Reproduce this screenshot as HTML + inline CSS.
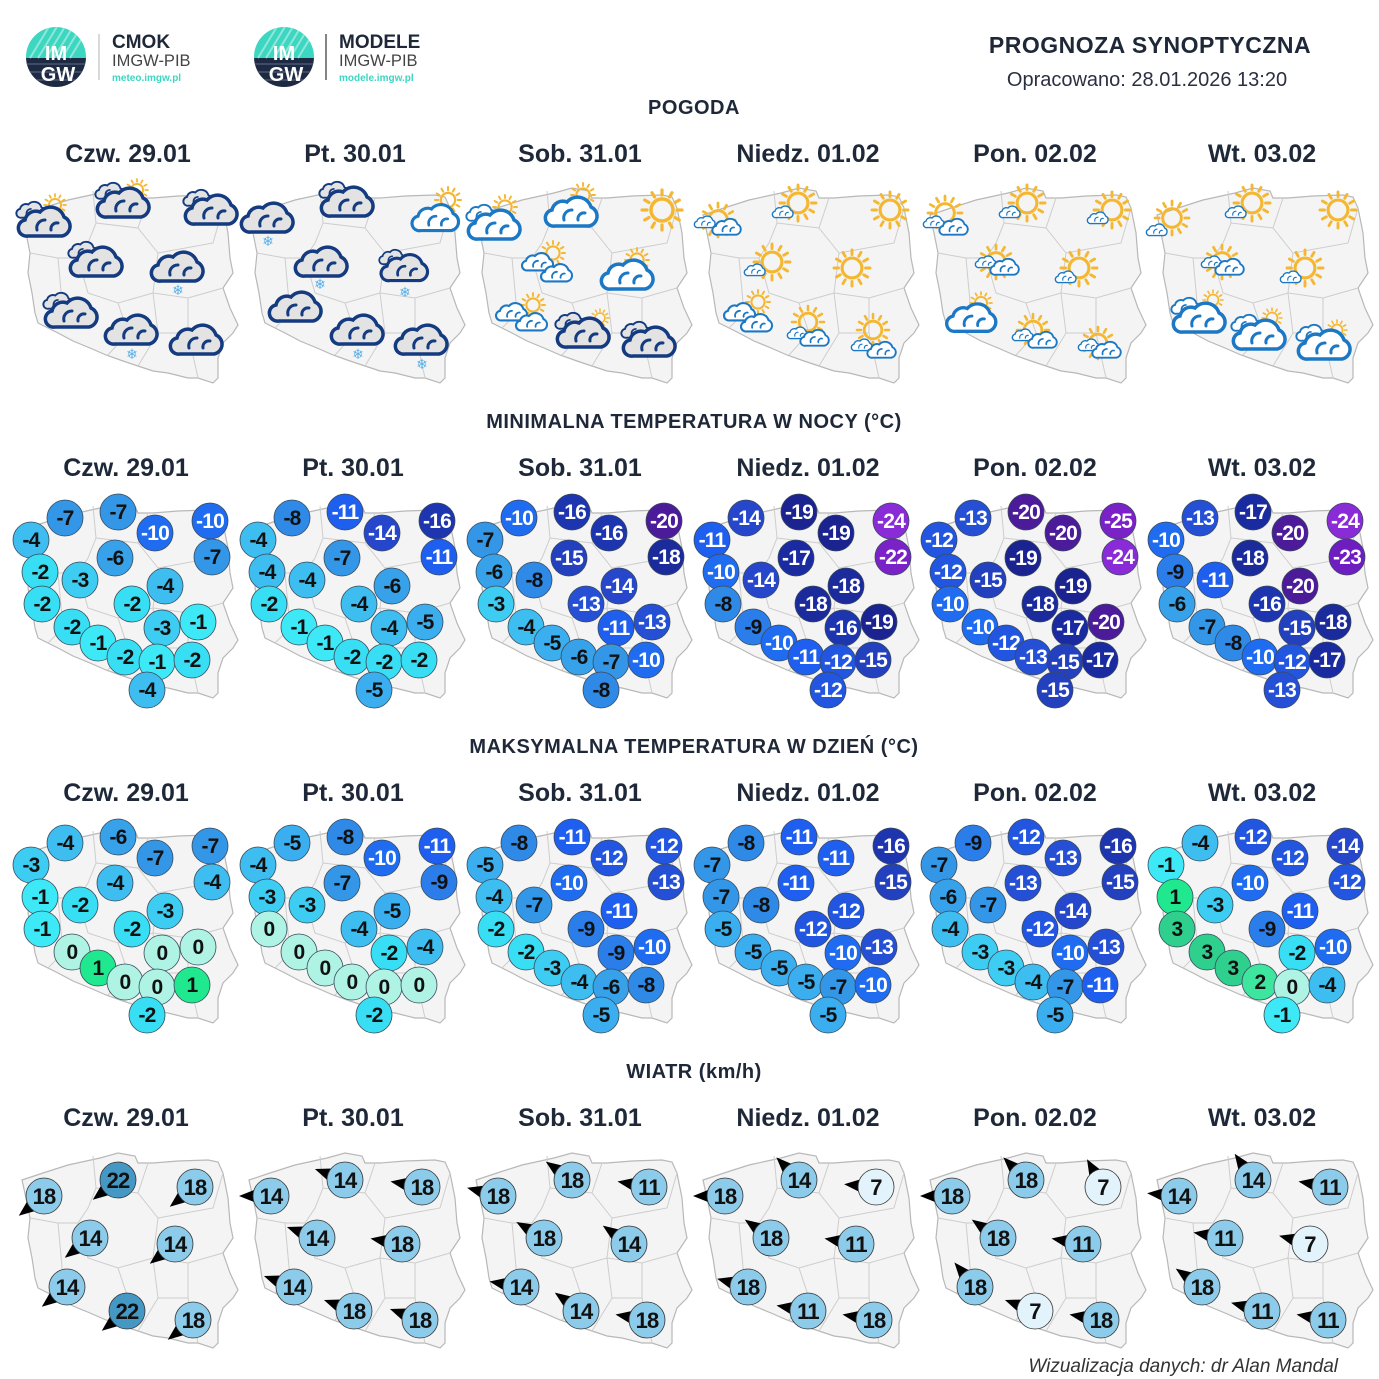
<!DOCTYPE html>
<html><head><meta charset="utf-8"><style>
html,body{margin:0;padding:0;background:#fff;}
svg{display:block;font-family:"Liberation Sans",sans-serif;}
.h{font-weight:bold;fill:#1e2838;text-anchor:middle;}
.day{font-size:25px;font-weight:bold;fill:#1e2838;text-anchor:middle;}
.sec{font-size:20px;font-weight:bold;fill:#1e2838;text-anchor:middle;letter-spacing:0.5px;}
.map{fill:#f4f4f4;stroke:#b8b8b8;stroke-width:1.2;}
.brd{fill:none;stroke:#cdcdcd;stroke-width:1;}
.t circle{stroke:#3a4a5a;stroke-width:0.8;}
.t text{font-size:21px;font-weight:bold;text-anchor:middle;fill:#111;letter-spacing:-0.8px;}
.t text.w{fill:#fff;}
.p3{fill:#2fcf8e}.p2{fill:#3ee59f}.p1{fill:#1fe88f}.z0{fill:#aef3e4}
.m1{fill:#3de9f7}.m2{fill:#38def3}.m3{fill:#3ecdf2}.m4{fill:#3dbdf0}.m5{fill:#3aaeee}.m6{fill:#37a2ea}.m7{fill:#3396e6}.m8{fill:#2f89e7}.m9{fill:#2b7ee9}.m10{fill:#1f6cf0}.m11{fill:#1f5ff0}.m12{fill:#2256e0}.m13{fill:#2550d6}.m14{fill:#2647cb}.m15{fill:#2340bf}.m16{fill:#1e35b0}.m17{fill:#1a2ba2}.m18{fill:#1b2b9c}.m19{fill:#1b2390}.m20{fill:#4b1b99}.m22{fill:#7a22c8}.m23{fill:#6e1dc0}.m24{fill:#8a2bd8}.m25{fill:#7a21c8}
.wd polygon{fill:#222;}
.wd circle{stroke:#333;stroke-width:0.8;}
.wd text{font-size:22px;font-weight:bold;text-anchor:middle;fill:#111;letter-spacing:-0.8px;}
.wa{fill:#8ccbea}.wb{fill:#4598c4}.wc{fill:#e3f3fb}
.sn{font-family:"DejaVu Sans",sans-serif;font-size:14px;fill:#5ab0e8;text-anchor:middle;}
</style></head><body>
<svg width="1379" height="1379" viewBox="0 0 1379 1379" xmlns="http://www.w3.org/2000/svg">
<defs>
<path id="pl" d="M4,32 L25,25 L50,17 L82,10 L100,5 L117,8 L120,15 L135,15 L160,13 L190,12 L200,14 L205,25 L210,50 L212,75 L215,90 L205,105 L212,125 L220,142 L215,150 L205,160 L200,175 L200,195 L195,200 L180,195 L170,195 L150,190 L135,188 L120,183 L105,178 L88,172 L72,165 L55,158 L40,150 L30,145 L20,140 L17,130 L14,110 L10,90 L12,70 L8,50 Z"/>
<g id="pm"><use href="#pl" class="map"/><path class="brd" d="M75,8 L78,40 L70,60 L60,75 M78,40 L120,45 L140,70 M120,45 L130,15 M140,70 L195,60 L205,25 M140,70 L135,110 L170,115 L205,105 M60,75 L70,110 L100,120 L135,110 M100,120 L110,150 L90,172 M135,110 L140,150 L170,150 L180,195 M140,150 L120,183 M170,115 L170,150 M12,70 L40,75 L60,75 M40,75 L45,130 L30,145"/></g>
<path id="cp" d="M-17,14 H17 A10,10 0 0 0 19,-5 A14,14 0 0 0 -5,-10 A11,11 0 0 0 -20,-2 A8,8 0 0 0 -17,14 Z"/>
<path id="ci" d="M-8,8 A8,8 0 0 1 0,-2 M6,8 A6,6 0 0 1 13,1"/>
<g id="cd"><use href="#cp" fill="#e3e3e3" stroke="#143a80" stroke-width="3.5"/><use href="#ci" fill="none" stroke="#143a80" stroke-width="3" stroke-linecap="round"/></g>
<g id="cb"><use href="#cp" fill="#fff" stroke="#1c78c4" stroke-width="3.5"/><use href="#ci" fill="none" stroke="#1c78c4" stroke-width="3" stroke-linecap="round"/></g>
<g id="cdd"><use href="#cd" transform="translate(-14,-12) scale(0.55)"/><use href="#cd"/></g>
<g id="cbb"><use href="#cb" transform="translate(-14,-12) scale(0.55)"/><use href="#cb"/></g>
<g id="sun"><circle r="11" fill="none" stroke="#f5b731" stroke-width="3.5"/><path stroke="#f5b731" stroke-width="3.2" stroke-linecap="round" d="M15,0L20,0M13,7.5L17.3,10M7.5,13L10,17.3M0,15L0,20M-7.5,13L-10,17.3M-13,7.5L-17.3,10M-15,0L-20,0M-13,-7.5L-17.3,-10M-7.5,-13L-10,-17.3M0,-15L0,-20M7.5,-13L10,-17.3M13,-7.5L17.3,-10"/></g>
<polygon id="ar" points="32,0 12,-8 12,8"/>
</defs>

<!-- header -->
<g>
<clipPath id="lc"><circle cx="56" cy="57" r="30"/></clipPath>
<g clip-path="url(#lc)"><rect x="20" y="20" width="80" height="38" fill="#3dd6c0"/><rect x="20" y="58" width="80" height="40" fill="#1e2a44"/>
<path d="M30,58L50,25M38,58L58,25M46,58L66,25M54,58L74,25M62,58L82,25M70,58L90,25" stroke="#8ee8da" stroke-width="2"/>
<path d="M20,64H100M20,72H100M20,80H100" stroke="#4a5670" stroke-width="1.5"/></g>
<text x="56" y="60" font-size="20" font-weight="bold" fill="#fff" text-anchor="middle">IM</text>
<text x="58" y="81" font-size="20" font-weight="bold" fill="#fff" text-anchor="middle">GW</text>
<line x1="99" y1="34" x2="99" y2="80" stroke="#ccc" stroke-width="1.5"/>
<text x="112" y="48" font-size="19" font-weight="bold" fill="#1e2838">CMOK</text>
<text x="112" y="66" font-size="16.5" fill="#444">IMGW-PIB</text>
<text x="112" y="81" font-size="10" font-weight="bold" fill="#3dd6c0">meteo.imgw.pl</text>
</g>
<g transform="translate(228,0)">
<clipPath id="lc2"><circle cx="56" cy="57" r="30"/></clipPath>
<g clip-path="url(#lc2)"><rect x="20" y="20" width="80" height="38" fill="#3dd6c0"/><rect x="20" y="58" width="80" height="40" fill="#1e2a44"/>
<path d="M30,58L50,25M38,58L58,25M46,58L66,25M54,58L74,25M62,58L82,25M70,58L90,25" stroke="#8ee8da" stroke-width="2"/>
<path d="M20,64H100M20,72H100M20,80H100" stroke="#4a5670" stroke-width="1.5"/></g>
<text x="56" y="60" font-size="20" font-weight="bold" fill="#fff" text-anchor="middle">IM</text>
<text x="58" y="81" font-size="20" font-weight="bold" fill="#fff" text-anchor="middle">GW</text>
<line x1="98" y1="34" x2="98" y2="80" stroke="#333" stroke-width="1.2"/>
<text x="111" y="48" font-size="19" font-weight="bold" fill="#1e2838">MODELE</text>
<text x="111" y="66" font-size="16.5" fill="#444">IMGW-PIB</text>
<text x="111" y="81" font-size="10" font-weight="bold" fill="#3dd6c0">modele.imgw.pl</text>
</g>
<text x="1150" y="53" class="h" font-size="23" letter-spacing="0.5">PROGNOZA SYNOPTYCZNA</text>
<text x="1147" y="86" font-size="20" fill="#2a3040" text-anchor="middle">Opracowano: 28.01.2026 13:20</text>

<text x="694" y="114" class="sec">POGODA</text>
<text x="694" y="428" class="sec">MINIMALNA TEMPERATURA W NOCY (°C)</text>
<text x="694" y="753" class="sec">MAKSYMALNA TEMPERATURA W DZIEŃ (°C)</text>
<text x="694" y="1078" class="sec">WIATR (km/h)</text>

<g class="day">
<text x="128" y="162">Czw. 29.01</text><text x="355" y="162">Pt. 30.01</text><text x="580" y="162">Sob. 31.01</text><text x="808" y="162">Niedz. 01.02</text><text x="1035" y="162">Pon. 02.02</text><text x="1262" y="162">Wt. 03.02</text>
<text x="126" y="476">Czw. 29.01</text><text x="353" y="476">Pt. 30.01</text><text x="580" y="476">Sob. 31.01</text><text x="808" y="476">Niedz. 01.02</text><text x="1035" y="476">Pon. 02.02</text><text x="1262" y="476">Wt. 03.02</text>
<text x="126" y="801">Czw. 29.01</text><text x="353" y="801">Pt. 30.01</text><text x="580" y="801">Sob. 31.01</text><text x="808" y="801">Niedz. 01.02</text><text x="1035" y="801">Pon. 02.02</text><text x="1262" y="801">Wt. 03.02</text>
<text x="126" y="1126">Czw. 29.01</text><text x="353" y="1126">Pt. 30.01</text><text x="580" y="1126">Sob. 31.01</text><text x="808" y="1126">Niedz. 01.02</text><text x="1035" y="1126">Pon. 02.02</text><text x="1262" y="1126">Wt. 03.02</text>
</g>

<!-- maps -->
<g>
<use href="#pm" x="18" y="183"/><use href="#pm" x="245" y="183"/><use href="#pm" x="472" y="183"/><use href="#pm" x="699" y="183"/><use href="#pm" x="926" y="183"/><use href="#pm" x="1153" y="183"/>
<use href="#pm" x="18" y="498"/><use href="#pm" x="245" y="498"/><use href="#pm" x="472" y="498"/><use href="#pm" x="699" y="498"/><use href="#pm" x="926" y="498"/><use href="#pm" x="1153" y="498"/>
<use href="#pm" x="18" y="823"/><use href="#pm" x="245" y="823"/><use href="#pm" x="472" y="823"/><use href="#pm" x="699" y="823"/><use href="#pm" x="926" y="823"/><use href="#pm" x="1153" y="823"/>
<use href="#pm" x="18" y="1148"/><use href="#pm" x="245" y="1148"/><use href="#pm" x="472" y="1148"/><use href="#pm" x="699" y="1148"/><use href="#pm" x="926" y="1148"/><use href="#pm" x="1153" y="1148"/>
</g>

<!-- weather col1 -->
<use href="#sun" transform="translate(55,205) scale(0.55)"/><use href="#cdd" transform="translate(45,222)"/>
<use href="#sun" transform="translate(137,190) scale(0.55)"/><use href="#cdd" transform="translate(124,203)"/>
<use href="#cdd" transform="translate(212,210)"/>
<use href="#cdd" transform="translate(97,262)"/>
<use href="#cd" transform="translate(178,267)"/><text class="sn" x="178" y="295">❄</text>
<use href="#cdd" transform="translate(72,313)"/>
<use href="#cd" transform="translate(132,330)"/><text class="sn" x="132" y="359">❄</text>
<use href="#cd" transform="translate(197,340)"/>
<!-- col2 -->
<use href="#cd" transform="translate(268,218)"/><text class="sn" x="268" y="246">❄</text>
<use href="#cdd" transform="translate(348,202)"/>
<use href="#sun" transform="translate(448,200) scale(0.65)"/><use href="#cb" transform="translate(436,218) scale(0.9)"/>
<use href="#cd" transform="translate(322,262)"/><text class="sn" x="320" y="289">❄</text>
<use href="#cdd" transform="translate(405,268) scale(0.9)"/><text class="sn" x="405" y="297">❄</text>
<use href="#cd" transform="translate(296,307)"/>
<use href="#cd" transform="translate(358,330)"/><text class="sn" x="358" y="359">❄</text>
<use href="#cd" transform="translate(422,340)"/><text class="sn" x="422" y="369">❄</text>
<!-- col3 -->
<use href="#sun" transform="translate(505,207) scale(0.6)"/><use href="#cbb" transform="translate(495,225)"/>
<use href="#sun" transform="translate(583,195) scale(0.6)"/><use href="#cb" transform="translate(572,212)"/>
<use href="#sun" transform="translate(662,210)"/>
<use href="#sun" transform="translate(553,253) scale(0.6)"/><use href="#cb" transform="translate(538,262) scale(0.6)"/><use href="#cb" transform="translate(557,273) scale(0.6)"/>
<use href="#sun" transform="translate(637,260) scale(0.6)"/><use href="#cb" transform="translate(628,275)"/>
<use href="#sun" transform="translate(533,305) scale(0.6)"/><use href="#cb" transform="translate(512,312) scale(0.6)"/><use href="#cb" transform="translate(532,322) scale(0.6)"/>
<use href="#sun" transform="translate(600,318) scale(0.45)"/><use href="#cdd" transform="translate(584,333)"/>
<use href="#cdd" transform="translate(650,342)"/>
<!-- col4 -->
<use href="#sun" transform="translate(798,203) scale(0.9)"/><use href="#cb" transform="translate(783,212) scale(0.4)"/>
<use href="#sun" transform="translate(890,210) scale(0.9)"/>
<use href="#sun" transform="translate(718,220) scale(0.85)"/><use href="#cb" transform="translate(705,222) scale(0.4)"/><use href="#cb" transform="translate(727,227) scale(0.55)"/>
<use href="#sun" transform="translate(772,262) scale(0.9)"/><use href="#cb" transform="translate(755,270) scale(0.4)"/>
<use href="#sun" transform="translate(852,268) scale(0.9)"/>
<use href="#sun" transform="translate(758,302) scale(0.6)"/><use href="#cb" transform="translate(740,312) scale(0.6)"/><use href="#cb" transform="translate(757,323) scale(0.6)"/>
<use href="#sun" transform="translate(808,322) scale(0.8)"/><use href="#cb" transform="translate(798,333) scale(0.4)"/><use href="#cb" transform="translate(815,338) scale(0.55)"/>
<use href="#sun" transform="translate(873,330) scale(0.8)"/><use href="#cb" transform="translate(862,345) scale(0.4)"/><use href="#cb" transform="translate(882,350) scale(0.55)"/>
<!-- col5 -->
<use href="#sun" transform="translate(945,213) scale(0.85)"/><use href="#cb" transform="translate(934,222) scale(0.4)"/><use href="#cb" transform="translate(954,227) scale(0.55)"/>
<use href="#sun" transform="translate(1027,203) scale(0.9)"/><use href="#cb" transform="translate(1010,212) scale(0.4)"/>
<use href="#sun" transform="translate(1112,210) scale(0.9)"/><use href="#cb" transform="translate(1098,218) scale(0.4)"/>
<use href="#sun" transform="translate(996,262) scale(0.85)"/><use href="#cb" transform="translate(986,262) scale(0.4)"/><use href="#cb" transform="translate(1005,267) scale(0.55)"/>
<use href="#sun" transform="translate(1079,268) scale(0.9)"/><use href="#cb" transform="translate(1066,277) scale(0.4)"/>
<use href="#sun" transform="translate(981,303) scale(0.55)"/><use href="#cb" transform="translate(972,318) scale(0.95)"/>
<use href="#sun" transform="translate(1033,330) scale(0.8)"/><use href="#cb" transform="translate(1023,335) scale(0.4)"/><use href="#cb" transform="translate(1043,340) scale(0.55)"/>
<use href="#sun" transform="translate(1098,343) scale(0.8)"/><use href="#cb" transform="translate(1089,345) scale(0.4)"/><use href="#cb" transform="translate(1107,350) scale(0.55)"/>
<!-- col6 -->
<use href="#sun" transform="translate(1172,218) scale(0.85)"/><use href="#cb" transform="translate(1157,230) scale(0.4)"/>
<use href="#sun" transform="translate(1252,203) scale(0.9)"/><use href="#cb" transform="translate(1236,212) scale(0.4)"/>
<use href="#sun" transform="translate(1338,210) scale(0.9)"/>
<use href="#sun" transform="translate(1222,262) scale(0.85)"/><use href="#cb" transform="translate(1212,262) scale(0.4)"/><use href="#cb" transform="translate(1230,267) scale(0.55)"/>
<use href="#sun" transform="translate(1305,268) scale(0.9)"/><use href="#cb" transform="translate(1291,277) scale(0.4)"/>
<use href="#sun" transform="translate(1213,300) scale(0.5)"/><use href="#cbb" transform="translate(1200,318)"/>
<use href="#sun" transform="translate(1272,318) scale(0.5)"/><use href="#cbb" transform="translate(1260,335)"/>
<use href="#sun" transform="translate(1337,330) scale(0.5)"/><use href="#cbb" transform="translate(1325,345)"/>

<!-- MIN TEMP -->
<g class="t">
<g>
<circle class="m4" cx="31" cy="540" r="18"/><text x="31" y="547">-4</text>
<circle class="m7" cx="65" cy="518" r="18"/><text x="65" y="525">-7</text>
<circle class="m7" cx="118" cy="512" r="18"/><text x="118" y="519">-7</text>
<circle class="m10" cx="155" cy="533" r="18"/><text class="w" x="155" y="540">-10</text>
<circle class="m10" cx="210" cy="521" r="18"/><text class="w" x="210" y="528">-10</text>
<circle class="m7" cx="212" cy="557" r="18"/><text x="212" y="564">-7</text>
<circle class="m6" cx="115" cy="558" r="18"/><text x="115" y="565">-6</text>
<circle class="m2" cx="40" cy="572" r="18"/><text x="40" y="579">-2</text>
<circle class="m3" cx="80" cy="580" r="18"/><text x="80" y="587">-3</text>
<circle class="m4" cx="165" cy="586" r="18"/><text x="165" y="593">-4</text>
<circle class="m2" cx="42" cy="604" r="18"/><text x="42" y="611">-2</text>
<circle class="m2" cx="132" cy="604" r="18"/><text x="132" y="611">-2</text>
<circle class="m3" cx="162" cy="628" r="18"/><text x="162" y="635">-3</text>
<circle class="m1" cx="198" cy="622" r="18"/><text x="198" y="629">-1</text>
<circle class="m2" cx="72" cy="627" r="18"/><text x="72" y="634">-2</text>
<circle class="m1" cx="98" cy="643" r="18"/><text x="98" y="650">-1</text>
<circle class="m2" cx="125" cy="657" r="18"/><text x="125" y="664">-2</text>
<circle class="m1" cx="157" cy="662" r="18"/><text x="157" y="669">-1</text>
<circle class="m2" cx="192" cy="660" r="18"/><text x="192" y="667">-2</text>
<circle class="m4" cx="147" cy="690" r="18"/><text x="147" y="697">-4</text>
</g>
<g transform="translate(227,0)">
<circle class="m4" cx="31" cy="540" r="18"/><text x="31" y="547">-4</text>
<circle class="m8" cx="65" cy="518" r="18"/><text x="65" y="525">-8</text>
<circle class="m11" cx="118" cy="512" r="18"/><text class="w" x="118" y="519">-11</text>
<circle class="m14" cx="155" cy="533" r="18"/><text class="w" x="155" y="540">-14</text>
<circle class="m16" cx="210" cy="521" r="18"/><text class="w" x="210" y="528">-16</text>
<circle class="m11" cx="212" cy="557" r="18"/><text class="w" x="212" y="564">-11</text>
<circle class="m7" cx="115" cy="558" r="18"/><text x="115" y="565">-7</text>
<circle class="m4" cx="40" cy="572" r="18"/><text x="40" y="579">-4</text>
<circle class="m4" cx="80" cy="580" r="18"/><text x="80" y="587">-4</text>
<circle class="m6" cx="165" cy="586" r="18"/><text x="165" y="593">-6</text>
<circle class="m2" cx="42" cy="604" r="18"/><text x="42" y="611">-2</text>
<circle class="m4" cx="132" cy="604" r="18"/><text x="132" y="611">-4</text>
<circle class="m4" cx="162" cy="628" r="18"/><text x="162" y="635">-4</text>
<circle class="m5" cx="198" cy="622" r="18"/><text x="198" y="629">-5</text>
<circle class="m1" cx="72" cy="627" r="18"/><text x="72" y="634">-1</text>
<circle class="m1" cx="98" cy="643" r="18"/><text x="98" y="650">-1</text>
<circle class="m2" cx="125" cy="657" r="18"/><text x="125" y="664">-2</text>
<circle class="m2" cx="157" cy="662" r="18"/><text x="157" y="669">-2</text>
<circle class="m2" cx="192" cy="660" r="18"/><text x="192" y="667">-2</text>
<circle class="m5" cx="147" cy="690" r="18"/><text x="147" y="697">-5</text>
</g>
<g transform="translate(454,0)">
<circle class="m7" cx="31" cy="540" r="18"/><text x="31" y="547">-7</text>
<circle class="m10" cx="65" cy="518" r="18"/><text class="w" x="65" y="525">-10</text>
<circle class="m16" cx="118" cy="512" r="18"/><text class="w" x="118" y="519">-16</text>
<circle class="m16" cx="155" cy="533" r="18"/><text class="w" x="155" y="540">-16</text>
<circle class="m20" cx="210" cy="521" r="18"/><text class="w" x="210" y="528">-20</text>
<circle class="m18" cx="212" cy="557" r="18"/><text class="w" x="212" y="564">-18</text>
<circle class="m15" cx="115" cy="558" r="18"/><text class="w" x="115" y="565">-15</text>
<circle class="m6" cx="40" cy="572" r="18"/><text x="40" y="579">-6</text>
<circle class="m8" cx="80" cy="580" r="18"/><text x="80" y="587">-8</text>
<circle class="m14" cx="165" cy="586" r="18"/><text class="w" x="165" y="593">-14</text>
<circle class="m3" cx="42" cy="604" r="18"/><text x="42" y="611">-3</text>
<circle class="m13" cx="132" cy="604" r="18"/><text class="w" x="132" y="611">-13</text>
<circle class="m11" cx="162" cy="628" r="18"/><text class="w" x="162" y="635">-11</text>
<circle class="m13" cx="198" cy="622" r="18"/><text class="w" x="198" y="629">-13</text>
<circle class="m4" cx="72" cy="627" r="18"/><text x="72" y="634">-4</text>
<circle class="m5" cx="98" cy="643" r="18"/><text x="98" y="650">-5</text>
<circle class="m6" cx="125" cy="657" r="18"/><text x="125" y="664">-6</text>
<circle class="m7" cx="157" cy="662" r="18"/><text x="157" y="669">-7</text>
<circle class="m10" cx="192" cy="660" r="18"/><text class="w" x="192" y="667">-10</text>
<circle class="m8" cx="147" cy="690" r="18"/><text x="147" y="697">-8</text>
</g>
<g transform="translate(681,0)">
<circle class="m11" cx="31" cy="540" r="18"/><text class="w" x="31" y="547">-11</text>
<circle class="m14" cx="65" cy="518" r="18"/><text class="w" x="65" y="525">-14</text>
<circle class="m19" cx="118" cy="512" r="18"/><text class="w" x="118" y="519">-19</text>
<circle class="m19" cx="155" cy="533" r="18"/><text class="w" x="155" y="540">-19</text>
<circle class="m24" cx="210" cy="521" r="18"/><text class="w" x="210" y="528">-24</text>
<circle class="m22" cx="212" cy="557" r="18"/><text class="w" x="212" y="564">-22</text>
<circle class="m17" cx="115" cy="558" r="18"/><text class="w" x="115" y="565">-17</text>
<circle class="m10" cx="40" cy="572" r="18"/><text class="w" x="40" y="579">-10</text>
<circle class="m14" cx="80" cy="580" r="18"/><text class="w" x="80" y="587">-14</text>
<circle class="m18" cx="165" cy="586" r="18"/><text class="w" x="165" y="593">-18</text>
<circle class="m8" cx="42" cy="604" r="18"/><text x="42" y="611">-8</text>
<circle class="m18" cx="132" cy="604" r="18"/><text class="w" x="132" y="611">-18</text>
<circle class="m16" cx="162" cy="628" r="18"/><text class="w" x="162" y="635">-16</text>
<circle class="m19" cx="198" cy="622" r="18"/><text class="w" x="198" y="629">-19</text>
<circle class="m9" cx="72" cy="627" r="18"/><text x="72" y="634">-9</text>
<circle class="m10" cx="98" cy="643" r="18"/><text class="w" x="98" y="650">-10</text>
<circle class="m11" cx="125" cy="657" r="18"/><text class="w" x="125" y="664">-11</text>
<circle class="m12" cx="157" cy="662" r="18"/><text class="w" x="157" y="669">-12</text>
<circle class="m15" cx="192" cy="660" r="18"/><text class="w" x="192" y="667">-15</text>
<circle class="m12" cx="147" cy="690" r="18"/><text class="w" x="147" y="697">-12</text>
</g>
<g transform="translate(908,0)">
<circle class="m12" cx="31" cy="540" r="18"/><text class="w" x="31" y="547">-12</text>
<circle class="m13" cx="65" cy="518" r="18"/><text class="w" x="65" y="525">-13</text>
<circle class="m20" cx="118" cy="512" r="18"/><text class="w" x="118" y="519">-20</text>
<circle class="m20" cx="155" cy="533" r="18"/><text class="w" x="155" y="540">-20</text>
<circle class="m25" cx="210" cy="521" r="18"/><text class="w" x="210" y="528">-25</text>
<circle class="m24" cx="212" cy="557" r="18"/><text class="w" x="212" y="564">-24</text>
<circle class="m19" cx="115" cy="558" r="18"/><text class="w" x="115" y="565">-19</text>
<circle class="m12" cx="40" cy="572" r="18"/><text class="w" x="40" y="579">-12</text>
<circle class="m15" cx="80" cy="580" r="18"/><text class="w" x="80" y="587">-15</text>
<circle class="m19" cx="165" cy="586" r="18"/><text class="w" x="165" y="593">-19</text>
<circle class="m10" cx="42" cy="604" r="18"/><text class="w" x="42" y="611">-10</text>
<circle class="m18" cx="132" cy="604" r="18"/><text class="w" x="132" y="611">-18</text>
<circle class="m17" cx="162" cy="628" r="18"/><text class="w" x="162" y="635">-17</text>
<circle class="m20" cx="198" cy="622" r="18"/><text class="w" x="198" y="629">-20</text>
<circle class="m10" cx="72" cy="627" r="18"/><text class="w" x="72" y="634">-10</text>
<circle class="m12" cx="98" cy="643" r="18"/><text class="w" x="98" y="650">-12</text>
<circle class="m13" cx="125" cy="657" r="18"/><text class="w" x="125" y="664">-13</text>
<circle class="m15" cx="157" cy="662" r="18"/><text class="w" x="157" y="669">-15</text>
<circle class="m17" cx="192" cy="660" r="18"/><text class="w" x="192" y="667">-17</text>
<circle class="m15" cx="147" cy="690" r="18"/><text class="w" x="147" y="697">-15</text>
</g>
<g transform="translate(1135,0)">
<circle class="m10" cx="31" cy="540" r="18"/><text class="w" x="31" y="547">-10</text>
<circle class="m13" cx="65" cy="518" r="18"/><text class="w" x="65" y="525">-13</text>
<circle class="m17" cx="118" cy="512" r="18"/><text class="w" x="118" y="519">-17</text>
<circle class="m20" cx="155" cy="533" r="18"/><text class="w" x="155" y="540">-20</text>
<circle class="m24" cx="210" cy="521" r="18"/><text class="w" x="210" y="528">-24</text>
<circle class="m23" cx="212" cy="557" r="18"/><text class="w" x="212" y="564">-23</text>
<circle class="m18" cx="115" cy="558" r="18"/><text class="w" x="115" y="565">-18</text>
<circle class="m9" cx="40" cy="572" r="18"/><text x="40" y="579">-9</text>
<circle class="m11" cx="80" cy="580" r="18"/><text class="w" x="80" y="587">-11</text>
<circle class="m20" cx="165" cy="586" r="18"/><text class="w" x="165" y="593">-20</text>
<circle class="m6" cx="42" cy="604" r="18"/><text x="42" y="611">-6</text>
<circle class="m16" cx="132" cy="604" r="18"/><text class="w" x="132" y="611">-16</text>
<circle class="m15" cx="162" cy="628" r="18"/><text class="w" x="162" y="635">-15</text>
<circle class="m18" cx="198" cy="622" r="18"/><text class="w" x="198" y="629">-18</text>
<circle class="m7" cx="72" cy="627" r="18"/><text x="72" y="634">-7</text>
<circle class="m8" cx="98" cy="643" r="18"/><text x="98" y="650">-8</text>
<circle class="m10" cx="125" cy="657" r="18"/><text class="w" x="125" y="664">-10</text>
<circle class="m12" cx="157" cy="662" r="18"/><text class="w" x="157" y="669">-12</text>
<circle class="m17" cx="192" cy="660" r="18"/><text class="w" x="192" y="667">-17</text>
<circle class="m13" cx="147" cy="690" r="18"/><text class="w" x="147" y="697">-13</text>
</g>

<!-- MAX TEMP -->
<g transform="translate(0,325)">
<circle class="m3" cx="31" cy="540" r="18"/><text x="31" y="547">-3</text>
<circle class="m4" cx="65" cy="518" r="18"/><text x="65" y="525">-4</text>
<circle class="m6" cx="118" cy="512" r="18"/><text x="118" y="519">-6</text>
<circle class="m7" cx="155" cy="533" r="18"/><text x="155" y="540">-7</text>
<circle class="m7" cx="210" cy="521" r="18"/><text x="210" y="528">-7</text>
<circle class="m4" cx="212" cy="557" r="18"/><text x="212" y="564">-4</text>
<circle class="m4" cx="115" cy="558" r="18"/><text x="115" y="565">-4</text>
<circle class="m1" cx="40" cy="572" r="18"/><text x="40" y="579">-1</text>
<circle class="m2" cx="80" cy="580" r="18"/><text x="80" y="587">-2</text>
<circle class="m3" cx="165" cy="586" r="18"/><text x="165" y="593">-3</text>
<circle class="m1" cx="42" cy="604" r="18"/><text x="42" y="611">-1</text>
<circle class="m2" cx="132" cy="604" r="18"/><text x="132" y="611">-2</text>
<circle class="z0" cx="162" cy="628" r="18"/><text x="162" y="635">0</text>
<circle class="z0" cx="198" cy="622" r="18"/><text x="198" y="629">0</text>
<circle class="z0" cx="72" cy="627" r="18"/><text x="72" y="634">0</text>
<circle class="p1" cx="98" cy="643" r="18"/><text x="98" y="650">1</text>
<circle class="z0" cx="125" cy="657" r="18"/><text x="125" y="664">0</text>
<circle class="z0" cx="157" cy="662" r="18"/><text x="157" y="669">0</text>
<circle class="p1" cx="192" cy="660" r="18"/><text x="192" y="667">1</text>
<circle class="m2" cx="147" cy="690" r="18"/><text x="147" y="697">-2</text>
</g>
<g transform="translate(227,325)">
<circle class="m4" cx="31" cy="540" r="18"/><text x="31" y="547">-4</text>
<circle class="m5" cx="65" cy="518" r="18"/><text x="65" y="525">-5</text>
<circle class="m8" cx="118" cy="512" r="18"/><text x="118" y="519">-8</text>
<circle class="m10" cx="155" cy="533" r="18"/><text class="w" x="155" y="540">-10</text>
<circle class="m11" cx="210" cy="521" r="18"/><text class="w" x="210" y="528">-11</text>
<circle class="m9" cx="212" cy="557" r="18"/><text x="212" y="564">-9</text>
<circle class="m7" cx="115" cy="558" r="18"/><text x="115" y="565">-7</text>
<circle class="m3" cx="40" cy="572" r="18"/><text x="40" y="579">-3</text>
<circle class="m3" cx="80" cy="580" r="18"/><text x="80" y="587">-3</text>
<circle class="m5" cx="165" cy="586" r="18"/><text x="165" y="593">-5</text>
<circle class="z0" cx="42" cy="604" r="18"/><text x="42" y="611">0</text>
<circle class="m4" cx="132" cy="604" r="18"/><text x="132" y="611">-4</text>
<circle class="m2" cx="162" cy="628" r="18"/><text x="162" y="635">-2</text>
<circle class="m4" cx="198" cy="622" r="18"/><text x="198" y="629">-4</text>
<circle class="z0" cx="72" cy="627" r="18"/><text x="72" y="634">0</text>
<circle class="z0" cx="98" cy="643" r="18"/><text x="98" y="650">0</text>
<circle class="z0" cx="125" cy="657" r="18"/><text x="125" y="664">0</text>
<circle class="z0" cx="157" cy="662" r="18"/><text x="157" y="669">0</text>
<circle class="z0" cx="192" cy="660" r="18"/><text x="192" y="667">0</text>
<circle class="m2" cx="147" cy="690" r="18"/><text x="147" y="697">-2</text>
</g>
<g transform="translate(454,325)">
<circle class="m5" cx="31" cy="540" r="18"/><text x="31" y="547">-5</text>
<circle class="m8" cx="65" cy="518" r="18"/><text x="65" y="525">-8</text>
<circle class="m11" cx="118" cy="512" r="18"/><text class="w" x="118" y="519">-11</text>
<circle class="m12" cx="155" cy="533" r="18"/><text class="w" x="155" y="540">-12</text>
<circle class="m12" cx="210" cy="521" r="18"/><text class="w" x="210" y="528">-12</text>
<circle class="m13" cx="212" cy="557" r="18"/><text class="w" x="212" y="564">-13</text>
<circle class="m10" cx="115" cy="558" r="18"/><text class="w" x="115" y="565">-10</text>
<circle class="m4" cx="40" cy="572" r="18"/><text x="40" y="579">-4</text>
<circle class="m7" cx="80" cy="580" r="18"/><text x="80" y="587">-7</text>
<circle class="m11" cx="165" cy="586" r="18"/><text class="w" x="165" y="593">-11</text>
<circle class="m2" cx="42" cy="604" r="18"/><text x="42" y="611">-2</text>
<circle class="m9" cx="132" cy="604" r="18"/><text x="132" y="611">-9</text>
<circle class="m9" cx="162" cy="628" r="18"/><text x="162" y="635">-9</text>
<circle class="m10" cx="198" cy="622" r="18"/><text class="w" x="198" y="629">-10</text>
<circle class="m2" cx="72" cy="627" r="18"/><text x="72" y="634">-2</text>
<circle class="m3" cx="98" cy="643" r="18"/><text x="98" y="650">-3</text>
<circle class="m4" cx="125" cy="657" r="18"/><text x="125" y="664">-4</text>
<circle class="m6" cx="157" cy="662" r="18"/><text x="157" y="669">-6</text>
<circle class="m8" cx="192" cy="660" r="18"/><text x="192" y="667">-8</text>
<circle class="m5" cx="147" cy="690" r="18"/><text x="147" y="697">-5</text>
</g>
<g transform="translate(681,325)">
<circle class="m7" cx="31" cy="540" r="18"/><text x="31" y="547">-7</text>
<circle class="m8" cx="65" cy="518" r="18"/><text x="65" y="525">-8</text>
<circle class="m11" cx="118" cy="512" r="18"/><text class="w" x="118" y="519">-11</text>
<circle class="m11" cx="155" cy="533" r="18"/><text class="w" x="155" y="540">-11</text>
<circle class="m16" cx="210" cy="521" r="18"/><text class="w" x="210" y="528">-16</text>
<circle class="m15" cx="212" cy="557" r="18"/><text class="w" x="212" y="564">-15</text>
<circle class="m11" cx="115" cy="558" r="18"/><text class="w" x="115" y="565">-11</text>
<circle class="m7" cx="40" cy="572" r="18"/><text x="40" y="579">-7</text>
<circle class="m8" cx="80" cy="580" r="18"/><text x="80" y="587">-8</text>
<circle class="m12" cx="165" cy="586" r="18"/><text class="w" x="165" y="593">-12</text>
<circle class="m5" cx="42" cy="604" r="18"/><text x="42" y="611">-5</text>
<circle class="m12" cx="132" cy="604" r="18"/><text class="w" x="132" y="611">-12</text>
<circle class="m10" cx="162" cy="628" r="18"/><text class="w" x="162" y="635">-10</text>
<circle class="m13" cx="198" cy="622" r="18"/><text class="w" x="198" y="629">-13</text>
<circle class="m5" cx="72" cy="627" r="18"/><text x="72" y="634">-5</text>
<circle class="m5" cx="98" cy="643" r="18"/><text x="98" y="650">-5</text>
<circle class="m5" cx="125" cy="657" r="18"/><text x="125" y="664">-5</text>
<circle class="m7" cx="157" cy="662" r="18"/><text x="157" y="669">-7</text>
<circle class="m10" cx="192" cy="660" r="18"/><text class="w" x="192" y="667">-10</text>
<circle class="m5" cx="147" cy="690" r="18"/><text x="147" y="697">-5</text>
</g>
<g transform="translate(908,325)">
<circle class="m7" cx="31" cy="540" r="18"/><text x="31" y="547">-7</text>
<circle class="m9" cx="65" cy="518" r="18"/><text x="65" y="525">-9</text>
<circle class="m12" cx="118" cy="512" r="18"/><text class="w" x="118" y="519">-12</text>
<circle class="m13" cx="155" cy="533" r="18"/><text class="w" x="155" y="540">-13</text>
<circle class="m16" cx="210" cy="521" r="18"/><text class="w" x="210" y="528">-16</text>
<circle class="m15" cx="212" cy="557" r="18"/><text class="w" x="212" y="564">-15</text>
<circle class="m13" cx="115" cy="558" r="18"/><text class="w" x="115" y="565">-13</text>
<circle class="m6" cx="40" cy="572" r="18"/><text x="40" y="579">-6</text>
<circle class="m7" cx="80" cy="580" r="18"/><text x="80" y="587">-7</text>
<circle class="m14" cx="165" cy="586" r="18"/><text class="w" x="165" y="593">-14</text>
<circle class="m4" cx="42" cy="604" r="18"/><text x="42" y="611">-4</text>
<circle class="m12" cx="132" cy="604" r="18"/><text class="w" x="132" y="611">-12</text>
<circle class="m10" cx="162" cy="628" r="18"/><text class="w" x="162" y="635">-10</text>
<circle class="m13" cx="198" cy="622" r="18"/><text class="w" x="198" y="629">-13</text>
<circle class="m3" cx="72" cy="627" r="18"/><text x="72" y="634">-3</text>
<circle class="m3" cx="98" cy="643" r="18"/><text x="98" y="650">-3</text>
<circle class="m4" cx="125" cy="657" r="18"/><text x="125" y="664">-4</text>
<circle class="m7" cx="157" cy="662" r="18"/><text x="157" y="669">-7</text>
<circle class="m11" cx="192" cy="660" r="18"/><text class="w" x="192" y="667">-11</text>
<circle class="m5" cx="147" cy="690" r="18"/><text x="147" y="697">-5</text>
</g>
<g transform="translate(1135,325)">
<circle class="m1" cx="31" cy="540" r="18"/><text x="31" y="547">-1</text>
<circle class="m4" cx="65" cy="518" r="18"/><text x="65" y="525">-4</text>
<circle class="m12" cx="118" cy="512" r="18"/><text class="w" x="118" y="519">-12</text>
<circle class="m12" cx="155" cy="533" r="18"/><text class="w" x="155" y="540">-12</text>
<circle class="m14" cx="210" cy="521" r="18"/><text class="w" x="210" y="528">-14</text>
<circle class="m12" cx="212" cy="557" r="18"/><text class="w" x="212" y="564">-12</text>
<circle class="m10" cx="115" cy="558" r="18"/><text class="w" x="115" y="565">-10</text>
<circle class="p1" cx="40" cy="572" r="18"/><text x="40" y="579">1</text>
<circle class="m3" cx="80" cy="580" r="18"/><text x="80" y="587">-3</text>
<circle class="m11" cx="165" cy="586" r="18"/><text class="w" x="165" y="593">-11</text>
<circle class="p3" cx="42" cy="604" r="18"/><text x="42" y="611">3</text>
<circle class="m9" cx="132" cy="604" r="18"/><text x="132" y="611">-9</text>
<circle class="m2" cx="162" cy="628" r="18"/><text x="162" y="635">-2</text>
<circle class="m10" cx="198" cy="622" r="18"/><text class="w" x="198" y="629">-10</text>
<circle class="p3" cx="72" cy="627" r="18"/><text x="72" y="634">3</text>
<circle class="p3" cx="98" cy="643" r="18"/><text x="98" y="650">3</text>
<circle class="p2" cx="125" cy="657" r="18"/><text x="125" y="664">2</text>
<circle class="z0" cx="157" cy="662" r="18"/><text x="157" y="669">0</text>
<circle class="m4" cx="192" cy="660" r="18"/><text x="192" y="667">-4</text>
<circle class="m1" cx="147" cy="690" r="18"/><text x="147" y="697">-1</text>
</g>
</g>

<!-- WIND -->
<g class="wd">
<g>
<g transform="translate(44,1196)"><use href="#ar" transform="rotate(142)"/><circle class="wa" r="18"/><text y="8">18</text></g>
<g transform="translate(118,1180)"><use href="#ar" transform="rotate(142)"/><circle class="wb" r="18"/><text y="8">22</text></g>
<g transform="translate(195,1187)"><use href="#ar" transform="rotate(142)"/><circle class="wa" r="18"/><text y="8">18</text></g>
<g transform="translate(90,1238)"><use href="#ar" transform="rotate(142)"/><circle class="wa" r="18"/><text y="8">14</text></g>
<g transform="translate(175,1244)"><use href="#ar" transform="rotate(142)"/><circle class="wa" r="18"/><text y="8">14</text></g>
<g transform="translate(67,1287)"><use href="#ar" transform="rotate(142)"/><circle class="wa" r="18"/><text y="8">14</text></g>
<g transform="translate(127,1311)"><use href="#ar" transform="rotate(142)"/><circle class="wb" r="18"/><text y="8">22</text></g>
<g transform="translate(193,1320)"><use href="#ar" transform="rotate(142)"/><circle class="wa" r="18"/><text y="8">18</text></g>
</g>
<g transform="translate(227,0)">
<g transform="translate(44,1196)"><use href="#ar" transform="rotate(180)"/><circle class="wa" r="18"/><text y="8">14</text></g>
<g transform="translate(118,1180)"><use href="#ar" transform="rotate(200)"/><circle class="wa" r="18"/><text y="8">14</text></g>
<g transform="translate(195,1187)"><use href="#ar" transform="rotate(190)"/><circle class="wa" r="18"/><text y="8">18</text></g>
<g transform="translate(90,1238)"><use href="#ar" transform="rotate(200)"/><circle class="wa" r="18"/><text y="8">14</text></g>
<g transform="translate(175,1244)"><use href="#ar" transform="rotate(190)"/><circle class="wa" r="18"/><text y="8">18</text></g>
<g transform="translate(67,1287)"><use href="#ar" transform="rotate(200)"/><circle class="wa" r="18"/><text y="8">14</text></g>
<g transform="translate(127,1311)"><use href="#ar" transform="rotate(200)"/><circle class="wa" r="18"/><text y="8">18</text></g>
<g transform="translate(193,1320)"><use href="#ar" transform="rotate(200)"/><circle class="wa" r="18"/><text y="8">18</text></g>
</g>
<g transform="translate(454,0)">
<g transform="translate(44,1196)"><use href="#ar" transform="rotate(195)"/><circle class="wa" r="18"/><text y="8">18</text></g>
<g transform="translate(118,1180)"><use href="#ar" transform="rotate(215)"/><circle class="wa" r="18"/><text y="8">18</text></g>
<g transform="translate(195,1187)"><use href="#ar" transform="rotate(190)"/><circle class="wa" r="18"/><text y="8">11</text></g>
<g transform="translate(90,1238)"><use href="#ar" transform="rotate(210)"/><circle class="wa" r="18"/><text y="8">18</text></g>
<g transform="translate(175,1244)"><use href="#ar" transform="rotate(215)"/><circle class="wa" r="18"/><text y="8">14</text></g>
<g transform="translate(67,1287)"><use href="#ar" transform="rotate(190)"/><circle class="wa" r="18"/><text y="8">14</text></g>
<g transform="translate(127,1311)"><use href="#ar" transform="rotate(215)"/><circle class="wa" r="18"/><text y="8">14</text></g>
<g transform="translate(193,1320)"><use href="#ar" transform="rotate(190)"/><circle class="wa" r="18"/><text y="8">18</text></g>
</g>
<g transform="translate(681,0)">
<g transform="translate(44,1196)"><use href="#ar" transform="rotate(180)"/><circle class="wa" r="18"/><text y="8">18</text></g>
<g transform="translate(118,1180)"><use href="#ar" transform="rotate(225)"/><circle class="wa" r="18"/><text y="8">14</text></g>
<g transform="translate(195,1187)"><use href="#ar" transform="rotate(185)"/><circle class="wc" r="18"/><text y="8">7</text></g>
<g transform="translate(90,1238)"><use href="#ar" transform="rotate(215)"/><circle class="wa" r="18"/><text y="8">18</text></g>
<g transform="translate(175,1244)"><use href="#ar" transform="rotate(190)"/><circle class="wa" r="18"/><text y="8">11</text></g>
<g transform="translate(67,1287)"><use href="#ar" transform="rotate(195)"/><circle class="wa" r="18"/><text y="8">18</text></g>
<g transform="translate(127,1311)"><use href="#ar" transform="rotate(190)"/><circle class="wa" r="18"/><text y="8">11</text></g>
<g transform="translate(193,1320)"><use href="#ar" transform="rotate(190)"/><circle class="wa" r="18"/><text y="8">18</text></g>
</g>
<g transform="translate(908,0)">
<g transform="translate(44,1196)"><use href="#ar" transform="rotate(180)"/><circle class="wa" r="18"/><text y="8">18</text></g>
<g transform="translate(118,1180)"><use href="#ar" transform="rotate(225)"/><circle class="wa" r="18"/><text y="8">18</text></g>
<g transform="translate(195,1187)"><use href="#ar" transform="rotate(240)"/><circle class="wc" r="18"/><text y="8">7</text></g>
<g transform="translate(90,1238)"><use href="#ar" transform="rotate(215)"/><circle class="wa" r="18"/><text y="8">18</text></g>
<g transform="translate(175,1244)"><use href="#ar" transform="rotate(190)"/><circle class="wa" r="18"/><text y="8">11</text></g>
<g transform="translate(67,1287)"><use href="#ar" transform="rotate(230)"/><circle class="wa" r="18"/><text y="8">18</text></g>
<g transform="translate(127,1311)"><use href="#ar" transform="rotate(200)"/><circle class="wc" r="18"/><text y="8">7</text></g>
<g transform="translate(193,1320)"><use href="#ar" transform="rotate(190)"/><circle class="wa" r="18"/><text y="8">18</text></g>
</g>
<g transform="translate(1135,0)">
<g transform="translate(44,1196)"><use href="#ar" transform="rotate(185)"/><circle class="wa" r="18"/><text y="8">14</text></g>
<g transform="translate(118,1180)"><use href="#ar" transform="rotate(235)"/><circle class="wa" r="18"/><text y="8">14</text></g>
<g transform="translate(195,1187)"><use href="#ar" transform="rotate(190)"/><circle class="wa" r="18"/><text y="8">11</text></g>
<g transform="translate(90,1238)"><use href="#ar" transform="rotate(190)"/><circle class="wa" r="18"/><text y="8">11</text></g>
<g transform="translate(175,1244)"><use href="#ar" transform="rotate(195)"/><circle class="wc" r="18"/><text y="8">7</text></g>
<g transform="translate(67,1287)"><use href="#ar" transform="rotate(215)"/><circle class="wa" r="18"/><text y="8">18</text></g>
<g transform="translate(127,1311)"><use href="#ar" transform="rotate(195)"/><circle class="wa" r="18"/><text y="8">11</text></g>
<g transform="translate(193,1320)"><use href="#ar" transform="rotate(190)"/><circle class="wa" r="18"/><text y="8">11</text></g>
</g>
</g>

<text x="1338" y="1372" font-size="19" font-style="italic" fill="#333" text-anchor="end">Wizualizacja danych: dr Alan Mandal</text>
</svg>
</body></html>
